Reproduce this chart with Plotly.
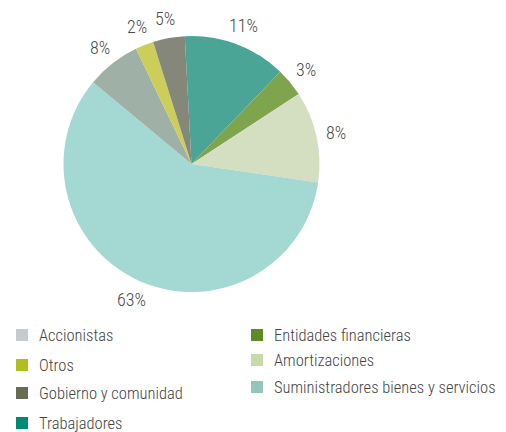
import math
import plotly.graph_objects as go

# Slice data (clockwise from top); labels as printed
categories = ["Trabajadores", "Entidades financieras", "Amortizaciones",
              "Suministradores bienes y servicios", "Accionistas", "Otros",
              "Gobierno y comunidad"]
values = [13.0, 3.6, 11.5, 58.6, 6.8, 2.3, 4.0]
pct_labels = ["11%", "3%", "8%", "63%", "8%", "2%", "5%"]
slice_colors = ["#4aa597", "#7ea54e", "#d4dec1", "#a4d8d2", "#9fb0a6", "#cdcd5a", "#85877a"]

# Legend (two columns)
legend_col1 = ["Accionistas", "Otros", "Gobierno y comunidad", "Trabajadores"]
legend_col1_colors = ["#c5cacd", "#b1be1f", "#676b4f", "#008a73"]
legend_col2 = ["Entidades financieras", "Amortizaciones", "Suministradores bienes y servicios"]
legend_col2_colors = ["#5e8a28", "#c7daa8", "#95c4bd"]

W, H = 506, 432
OFF = 8  # page body margin
FONT = "Roboto Condensed, Roboto, sans-serif"

cx, cy, r = 191.5 - OFF, 164 - OFF, 128
ROT = -3

def px(x):
    return x / W
def py(y):
    return (H - y) / H

fig = go.Figure()
fig.add_trace(go.Pie(
    labels=categories, values=values, text=pct_labels,
    textinfo="none", sort=False,
    direction="clockwise", rotation=ROT,
    marker=dict(colors=slice_colors, line=dict(width=0)),
    showlegend=False, hoverinfo="label+text",
    domain=dict(x=[px(cx - r), px(cx + r)], y=[py(cy + r), py(cy - r)]),
))

shapes, annots = [], []

# percentage labels at each slice's mid-angle, outside the pie
total = sum(values)
acc = 0.0
for v, t in zip(values, pct_labels):
    mid = math.radians(ROT + (acc + v / 2) / total * 360)
    acc += v
    d = r + 20
    annots.append(dict(xref="paper", yref="paper",
                       x=px(cx + d * math.sin(mid)), y=py(cy - d * math.cos(mid)),
                       text=t, showarrow=False, xanchor="center", yanchor="middle",
                       font=dict(family=FONT, size=18, color="#4a4a4a", weight=300)))

def add_items(names, colors, x0, ys):
    for n, c, y in zip(names, colors, ys):
        x0o, yo = x0 - OFF, y - OFF
        shapes.append(dict(type="rect", xref="paper", yref="paper",
                           x0=px(x0o), x1=px(x0o + 12),
                           y0=py(yo + 6), y1=py(yo - 6),
                           fillcolor=c, line=dict(width=0)))
        annots.append(dict(xref="paper", yref="paper", x=px(x0o + 21), y=py(yo),
                           text=n, showarrow=False, xanchor="left", yanchor="middle",
                           font=dict(family=FONT, size=16.5, color="#444444", weight=300)))

add_items(legend_col1, legend_col1_colors, 16, [335, 365, 393, 423])
add_items(legend_col2, legend_col2_colors, 251, [335, 360, 387])

fig.update_layout(width=W, height=H, margin=dict(l=0, r=0, t=0, b=0),
                  paper_bgcolor="white", plot_bgcolor="white",
                  shapes=shapes, annotations=annots)
fig.write_html("out.html")
